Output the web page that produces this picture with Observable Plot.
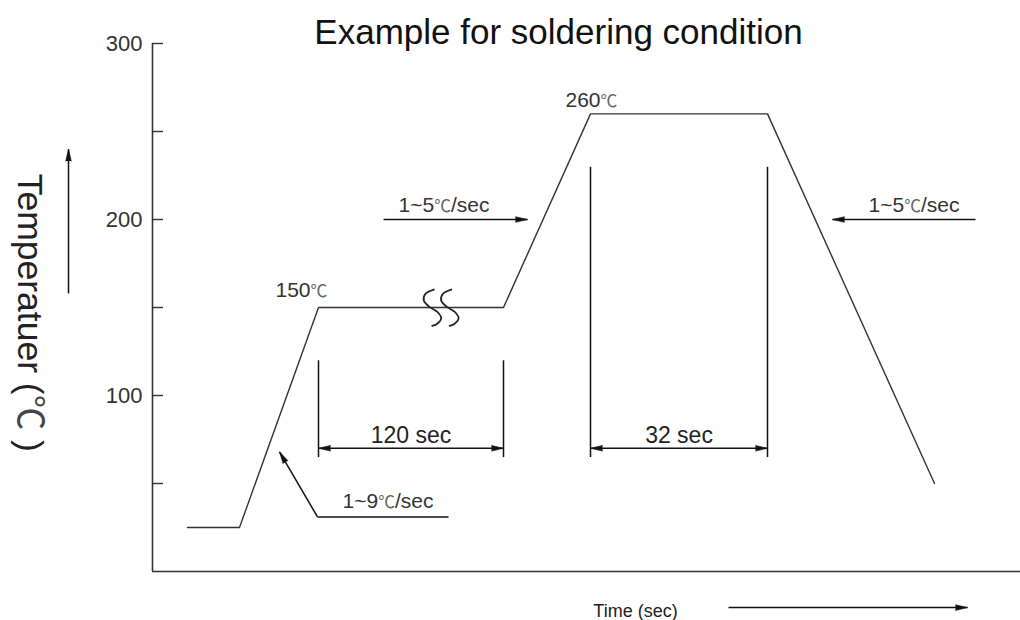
<!DOCTYPE html>
<html><head><meta charset="utf-8">
<script src="https://cdn.jsdelivr.net/npm/d3@7"></script>
<script src="https://cdn.jsdelivr.net/npm/@observablehq/plot@0.6"></script>
<style>body{margin:0;background:#fff;} svg{display:block}</style>
</head><body><div id="chart"></div>
<script>
// ---- data (schematic time units, temperature in °C) ----
const profileTime = [17.5, 43.5, 83, 175.5, 219, 307.5, 391];
const profileTemp = [25, 25, 150, 150, 260, 260, 50];

const yTickValues = [50, 100, 150, 200, 250, 300];
const yLabelValues = [100, 200, 300];

const tempLabels = ["150℃", "260℃"];
const tempLabelTime = [61.5, 206.5];
const tempLabelTemp = [156, 264];

const rateLabels = ["1~5℃/sec", "1~5℃/sec", "1~9℃/sec"];
const rateLabelTime = [123, 358, 95];
const rateLabelTemp = [204, 204, 36];

// rate leader lines (from -> to, arrow at "to")
const rateFromTime = [115.5, 411.5, 82.5];
const rateFromTemp = [200, 200, 31];
const rateToTime = [187.5, 340, 63.5];
const rateToTemp = [200, 200, 68];
const rateHeadRotate = [90, 270, -30];
// the 1~9 leader has an extra horizontal under its label
const leaderTailTime = [148, 82.5];
const leaderTailTemp = [31, 31];

// dimension intervals
const dimLabels = ["120 sec", "32 sec"];
const dimStart = [83, 219];
const dimEnd = [175.5, 307.5];
const dimTop = [120, 230];
const dimBottom = 65;
const dimLevel = 70;

// break symbol (two S curves on the 150℃ plateau)
const break1Time = [140.65, 136.5, 135.65, 138.65, 142.65, 144.35, 142, 139.85];
const break2Time = [149.35, 145.2, 144.35, 147.35, 151.35, 153.05, 150.7, 148.55];
const breakTemp = [160.2, 157.8, 154.0, 150.2, 147.3, 143.9, 140.5, 139.6];

// axis direction arrows
const upArrowTime = -42, upArrowFrom = 158, upArrowTo = 240;
const timeArrowFrom = 288, timeArrowTo = 407.5, timeArrowTemp = -20.5;

const titleText = "Example for soldering condition";
const yTitleText = "Temperatuer (℃ )";
const xTitleText = "Time (sec)";

// ---- build tables ----
const profile = profileTime.map((t, i) => ({t, T: profileTemp[i]}));
const tempLab = tempLabels.map((s, i) => ({s, t: tempLabelTime[i], T: tempLabelTemp[i]}));
const rateLab = rateLabels.map((s, i) => ({s, t: rateLabelTime[i], T: rateLabelTemp[i]}));
const segs = [];
rateFromTime.forEach((t, i) => segs.push({x1: t, y1: rateFromTemp[i], x2: rateToTime[i], y2: rateToTemp[i]}));
segs.push({x1: leaderTailTime[0], y1: leaderTailTemp[0], x2: leaderTailTime[1], y2: leaderTailTemp[1]});
dimLabels.forEach((s, i) => {
  segs.push({x1: dimStart[i], y1: dimTop[i], x2: dimStart[i], y2: dimBottom});
  segs.push({x1: dimEnd[i], y1: dimTop[i], x2: dimEnd[i], y2: dimBottom});
  segs.push({x1: dimStart[i], y1: dimLevel, x2: dimEnd[i], y2: dimLevel});
});
segs.push({x1: upArrowTime, y1: upArrowFrom, x2: upArrowTime, y2: upArrowTo});
segs.push({x1: timeArrowFrom, y1: timeArrowTemp, x2: timeArrowTo, y2: timeArrowTemp});

const heads = [];
rateToTime.forEach((t, i) => heads.push({t, T: rateToTemp[i], r: rateHeadRotate[i]}));
dimLabels.forEach((s, i) => {
  heads.push({t: dimStart[i], T: dimLevel, r: 270});
  heads.push({t: dimEnd[i], T: dimLevel, r: 90});
});
heads.push({t: upArrowTime, T: upArrowTo, r: 0});
heads.push({t: timeArrowTo, T: timeArrowTemp, r: 90});

const dimLab = dimLabels.map((s, i) => ({s, t: (dimStart[i] + dimEnd[i]) / 2, T: dimLevel + 3}));
const break1 = break1Time.map((t, i) => ({t, T: breakTemp[i]}));
const break2 = break2Time.map((t, i) => ({t, T: breakTemp[i]}));

const font = "'Liberation Sans', Arial, Helvetica, sans-serif";

const svg = Plot.plot({
  width: 1020,
  height: 620,
  marginLeft: 152,
  marginRight: 0,
  marginTop: 43,
  marginBottom: 49,
  style: {fontFamily: font, background: "#fff", overflow: "visible"},
  x: {domain: [0, 434], axis: null},
  y: {domain: [0, 300], axis: null},
  marks: [
    // axes
    Plot.ruleX([0], {y1: 0, y2: 300, stroke: "#333", strokeWidth: 1.6}),
    Plot.ruleY([0], {stroke: "#333", strokeWidth: 1.6}),
    Plot.axisY(yTickValues, {tickSize: -11, tickFormat: () => "", stroke: "#333", strokeWidth: 1.4}),
    Plot.axisY(yLabelValues, {tickSize: 0, tickPadding: 10, fontSize: 22, fill: "#333"}),
    // profile
    Plot.line(profile, {x: "t", y: "T", stroke: "#333", strokeWidth: 1.4}),
    // break symbol
    Plot.line(break1, {x: "t", y: "T", curve: "catmull-rom", stroke: "#222", strokeWidth: 1.8}),
    Plot.line(break2, {x: "t", y: "T", curve: "catmull-rom", stroke: "#222", strokeWidth: 1.8}),
    // annotation lines and arrowheads
    Plot.link(segs, {x1: "x1", y1: "y1", x2: "x2", y2: "y2", stroke: "#111", strokeWidth: 1.5}),
    Plot.vector(heads, {x: "t", y: "T", rotate: "r", anchor: "end", shape: "spike", length: 12, r: 2.8, fill: "#111", stroke: "#111", strokeWidth: 0.6}),
    // labels
    Plot.text(tempLab, {x: "t", y: "T", text: "s", textAnchor: "start", lineAnchor: "bottom", fontSize: 21, fill: "#333"}),
    Plot.text(rateLab, {x: "t", y: "T", text: "s", textAnchor: "start", lineAnchor: "bottom", fontSize: 21, fill: "#333"}),
    Plot.text(dimLab, {x: "t", y: "T", text: "s", textAnchor: "middle", lineAnchor: "bottom", fontSize: 23, fill: "#222"}),
    Plot.text([titleText], {x: 203, y: 300, text: d => d, textAnchor: "middle", lineAnchor: "bottom", fontSize: 35, fill: "#111"}),
    Plot.text([yTitleText], {x: -61.5, y: 147, text: d => d, rotate: 90, textAnchor: "middle", lineAnchor: "middle", fontSize: 35.5, fill: "#222"}),
    Plot.text([xTitleText], {x: 241.5, y: -26, text: d => d, textAnchor: "middle", lineAnchor: "bottom", fontSize: 18, fill: "#222"})
  ]
});

// render ℃ with a CJK face, lighter, like the reference
d3.select(svg).selectAll("text").each(function() {
  const el = d3.select(this);
  if (el.selectAll("tspan").size() > 0) return;
  const s = this.textContent;
  if (!s || !s.includes("℃")) return;
  const big = s === yTitleText;
  const parts = s.split("℃");
  el.text(null);
  parts.forEach((p, i) => {
    if (p) el.append("tspan").text(p);
    if (i < parts.length - 1) {
      el.append("tspan")
        .attr("font-family", "'Noto Sans CJK SC', 'Noto Sans CJK JP', sans-serif")
        .attr("font-size", big ? "1em" : "0.8em")
        .attr("fill", big ? "#444" : "#666")
        .text("℃");
    }
  });
});

document.getElementById("chart").appendChild(svg);
</script>
</body></html>
